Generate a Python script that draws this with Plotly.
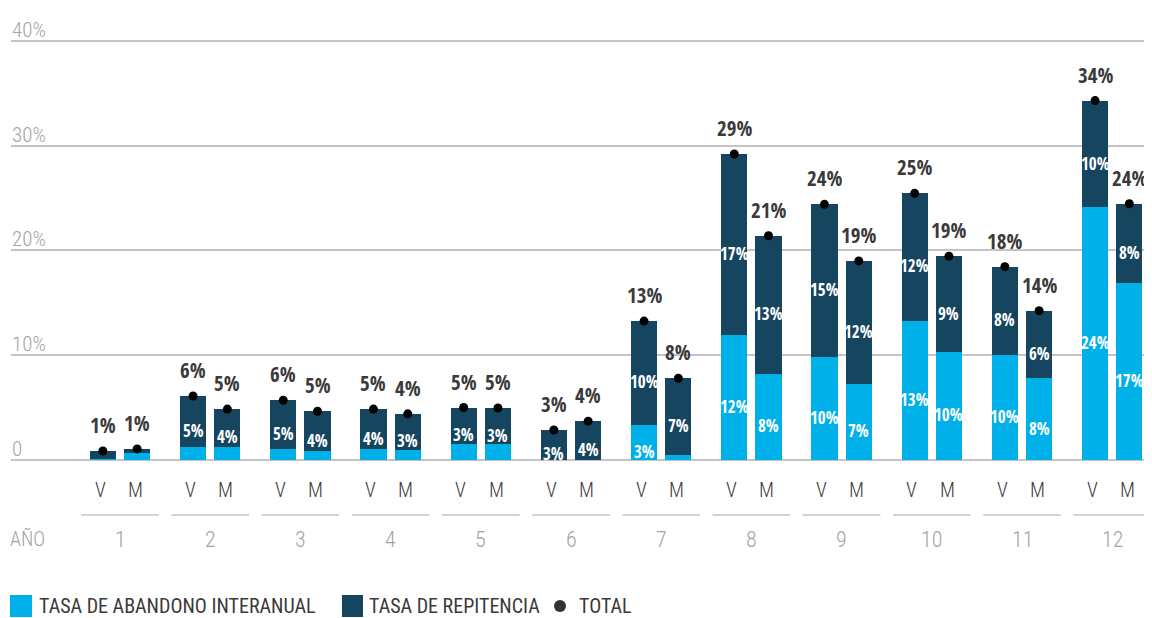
import plotly.graph_objects as go

# ---- data ----
years = [1, 2, 3, 4, 5, 6, 7, 8, 9, 10, 11, 12]
year_labels = ["1", "2", "3", "4", "5", "6", "7", "8", "9", "10", "11", "12"]
abandono_v = [0.1, 1.25, 1.05, 1.05, 1.55, 0.0, 3.35, 11.9, 9.8, 13.3, 10.0, 24.1]
repitencia_v = [0.75, 4.85, 4.65, 3.8, 3.45, 2.85, 9.9, 17.3, 14.6, 12.15, 8.45, 10.2]
abandono_m = [0.7, 1.25, 0.85, 0.95, 1.5, 0.0, 0.5, 8.2, 7.25, 10.3, 7.8, 16.9]
repitencia_m = [0.35, 3.6, 3.8, 3.45, 3.45, 3.7, 7.3, 13.2, 11.75, 9.15, 6.45, 7.55]
y_ticks = [0, 10, 20, 30, 40]
y_tick_labels = ["0", "10%", "20%", "30%", "40%"]
sex_labels = ["V", "M"]
legend_labels = ["TASA DE ABANDONO INTERANUAL", "TASA DE REPITENCIA", "TOTAL"]

# ---- style ----
C_LIGHT = "#00b0e8"
C_DARK = "#164560"
C_TEXT = "#3a3a3a"
C_GREY = "#a3a3a3"
FONT = "'Roboto Condensed', 'DejaVu Sans Condensed', sans-serif"
FONT_B = "'Open Sans Condensed', 'Roboto Condensed', sans-serif"
OFF = 0.19
BW = 0.29

# page has an 8px body margin: figure origin sits at page (8, 8)
OX, OY = 8, 8
W, H = 1152 - OX, 618 - OY
PLOT_L, PLOT_R, PLOT_T, PLOT_B = 11, 1152, 20, 462   # page pixels
ML, MR, MT, MB = PLOT_L - OX, 1152 - PLOT_R, PLOT_T - OY, H - (PLOT_B - OY)
PW = W - ML - MR
PH = H - MT - MB


def px_x(p):
    return (p - PLOT_L) / PW


def px_y(p):
    return (PLOT_B - p) / PH


xs_v = [y - OFF for y in years]
xs_m = [y + OFF for y in years]
tot_v = [a + r for a, r in zip(abandono_v, repitencia_v)]
tot_m = [a + r for a, r in zip(abandono_m, repitencia_m)]

fig = go.Figure()
for xs, ab, rp in [(xs_v, abandono_v, repitencia_v), (xs_m, abandono_m, repitencia_m)]:
    fig.add_trace(go.Bar(x=xs, y=ab, width=BW, marker=dict(color=C_LIGHT, line=dict(width=0)),
                         name=legend_labels[0], showlegend=False, hoverinfo="y"))
    fig.add_trace(go.Bar(x=xs, y=rp, width=BW, marker=dict(color=C_DARK, line=dict(width=0)),
                         name=legend_labels[1], showlegend=False, hoverinfo="y"))

fig.add_trace(go.Scatter(x=xs_v + xs_m, y=tot_v + tot_m, mode="markers",
                         marker=dict(color="black", size=9), name=legend_labels[2],
                         showlegend=False, hoverinfo="y"))

ann = []
for xs, ab, rp, tot in [(xs_v, abandono_v, repitencia_v, tot_v), (xs_m, abandono_m, repitencia_m, tot_m)]:
    for x, a, r, t in zip(xs, ab, rp, tot):
        if a >= 2.5:
            ann.append(dict(x=x, y=a / 2, text=f"{a:.0f}%", showarrow=False, yshift=-9,
                            font=dict(family=FONT_B, size=17, color="white", weight="bold")))
        if r >= 2.5:
            ann.append(dict(x=x, y=a + r / 2, text=f"{r:.0f}%", showarrow=False, yshift=-9,
                            font=dict(family=FONT_B, size=17, color="white", weight="bold")))
        ann.append(dict(x=x, y=t, text=f"{t:.0f}%", showarrow=False, yanchor="bottom", yshift=10,
                        font=dict(family=FONT_B, size=21, color=C_TEXT, weight="bold")))

for v, lab in zip(y_ticks, y_tick_labels):
    ann.append(dict(x=0, xref="paper", y=v, yref="y", text=lab, showarrow=False,
                    xanchor="left", yanchor="bottom", yshift=-3, xshift=-1,
                    font=dict(family=FONT, size=21, color=C_GREY, weight=300)))

shapes = []
for y, lab, xv, xm in zip(years, year_labels, xs_v, xs_m):
    for xx, s in zip([xv - 0.03, xm - 0.02], sex_labels):
        ann.append(dict(x=xx, y=px_y(490), yref="paper", text=s, showarrow=False,
                        xanchor="center", yanchor="middle",
                        font=dict(family=FONT, size=20, color=C_TEXT, weight=300)))
    ann.append(dict(x=y, y=px_y(539), yref="paper", text=lab, showarrow=False,
                    xanchor="center", yanchor="middle",
                    font=dict(family=FONT, size=22, color=C_GREY, weight=300)))
    shapes.append(dict(type="line", xref="x", yref="paper", x0=y - 0.43, x1=y + 0.43,
                       y0=px_y(515), y1=px_y(515), line=dict(color="#c4c4c4", width=1.5)))

ann.append(dict(x=px_x(47), xref="paper", y=px_y(539), yref="paper", text="AÑO", showarrow=False,
                xanchor="right", yanchor="middle",
                font=dict(family=FONT, size=20, color=C_GREY, weight=300)))

# legend
shapes.append(dict(type="rect", xref="paper", yref="paper", x0=px_x(10), x1=px_x(32),
                   y0=px_y(617), y1=px_y(595), fillcolor=C_LIGHT, line=dict(width=0)))
shapes.append(dict(type="rect", xref="paper", yref="paper", x0=px_x(342), x1=px_x(363),
                   y0=px_y(617), y1=px_y(595), fillcolor=C_DARK, line=dict(width=0)))
shapes.append(dict(type="circle", xref="paper", yref="paper", x0=px_x(554), x1=px_x(566),
                   y0=px_y(612), y1=px_y(600), fillcolor="#333333", line=dict(width=0)))
for lx, lab in zip([37, 367, 577], legend_labels):
    ann.append(dict(x=px_x(lx), xref="paper", y=px_y(606), yref="paper", text=lab,
                    showarrow=False, xanchor="left", yanchor="middle",
                    font=dict(family=FONT, size=20, color=C_TEXT)))

fig.update_layout(
    width=W, height=H, barmode="stack", bargap=0,
    margin=dict(l=ML, r=MR, t=MT, b=MB),
    paper_bgcolor="white", plot_bgcolor="white",
    xaxis=dict(range=[1 - (120 - PLOT_L) / 90.2, 1 + (PLOT_R - 120) / 90.2],
               showticklabels=False, showgrid=False, zeroline=False, fixedrange=True),
    yaxis=dict(range=[-0.2, -0.2 + PH / 10.475], tickvals=y_ticks, showticklabels=False,
               showgrid=True, gridcolor="#c4c4c4", gridwidth=1.5, zeroline=False, fixedrange=True),
    annotations=ann, shapes=shapes, showlegend=False,
    font=dict(family=FONT),
)

fig.write_html("out.html")
